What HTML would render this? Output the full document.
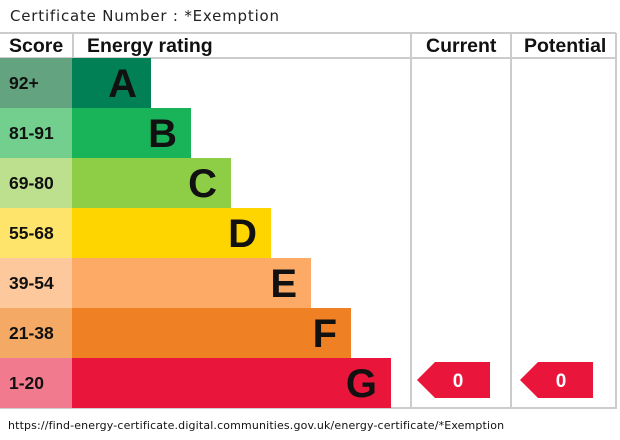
<!DOCTYPE html>
<html><head><style>
body{margin:0;width:620px;height:440px;background:#fff;position:relative;overflow:hidden;font-family:"Liberation Sans",Arial,sans-serif}
div{position:absolute}
.t{left:10px;top:7px;font-family:"DejaVu Sans",sans-serif;font-size:15px;letter-spacing:0.8px;color:#222}
.h{font-weight:bold;font-size:19.5px;color:#111;top:35px}
.s{left:0;width:72px;height:50px;font-weight:bold;font-size:17.5px;line-height:50px;padding-left:9px;box-sizing:border-box;color:#111}
.b{left:72px;height:50px;font-weight:bold;font-size:40px;line-height:52px;text-align:right;padding-right:14px;box-sizing:border-box;color:#111}
.l{background:#ccc}
.u{font-family:"DejaVu Sans",sans-serif;font-size:11px;letter-spacing:0.15px;left:8px;top:419px;color:#111}
</style></head><body>
<div class="t">Certificate Number : *Exemption</div>
<div class="l" style="left:0;top:32px;width:616px;height:2px"></div>
<div class="l" style="left:72px;top:33px;width:2px;height:25px"></div>
<div class="l" style="left:0;top:57px;width:616px;height:2px"></div>
<div class="l" style="left:410px;top:33px;width:2px;height:376px"></div>
<div class="l" style="left:510px;top:33px;width:2px;height:376px"></div>
<div class="l" style="left:615px;top:33px;width:2px;height:376px"></div>
<div class="l" style="left:0;top:407px;width:616px;height:2px"></div>
<div class="h" style="left:9px">Score</div>
<div class="h" style="left:87px">Energy rating</div>
<div class="h" style="left:426px">Current</div>
<div class="h" style="left:524px">Potential</div>

<div class="s" style="top:58px;background:#64a37f">92+</div><div class="b" style="top:58px;width:79px;background:#008054">A</div>
<div class="s" style="top:108px;background:#73cf8d">81-91</div><div class="b" style="top:108px;width:119px;background:#19b459">B</div>
<div class="s" style="top:158px;background:#bde08f">69-80</div><div class="b" style="top:158px;width:159px;background:#8dce46">C</div>
<div class="s" style="top:208px;background:#fee46a">55-68</div><div class="b" style="top:208px;width:199px;background:#ffd500">D</div>
<div class="s" style="top:258px;background:#fdc89b">39-54</div><div class="b" style="top:258px;width:239px;background:#fcaa65">E</div>
<div class="s" style="top:308px;background:#f4a964">21-38</div><div class="b" style="top:308px;width:279px;background:#ef8023">F</div>
<div class="s" style="top:358px;background:#f27a8f">1-20</div><div class="b" style="top:358px;width:319px;background:#e9153b">G</div>

<svg style="position:absolute;left:0;top:0" width="620" height="440">
<polygon points="417,380 435,362 490,362 490,398 435,398" fill="#e9153b"/>
<polygon points="520,380 538,362 593,362 593,398 538,398" fill="#e9153b"/>
<text x="458" y="387" fill="#fff" font-family="Liberation Sans,sans-serif" font-weight="bold" font-size="19" text-anchor="middle">0</text>
<text x="561" y="387" fill="#fff" font-family="Liberation Sans,sans-serif" font-weight="bold" font-size="19" text-anchor="middle">0</text>
</svg>
<div class="u">https://find-energy-certificate.digital.communities.gov.uk/energy-certificate/*Exemption</div>
</body></html>
